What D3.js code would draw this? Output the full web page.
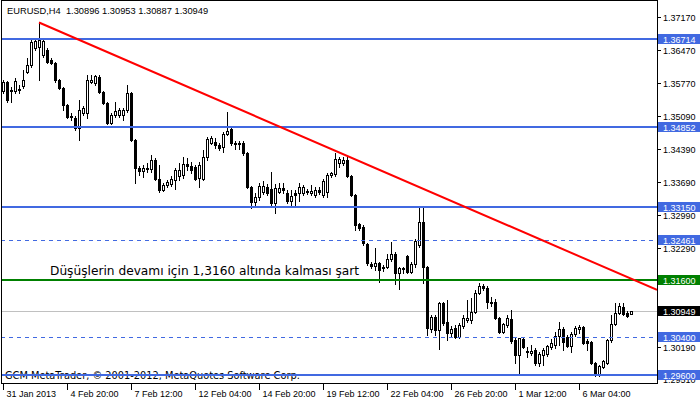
<!DOCTYPE html>
<html><head><meta charset="utf-8">
<script src="https://cdn.jsdelivr.net/npm/d3@7"></script>
<style>html,body{margin:0;padding:0;background:#fff;}svg{display:block;}</style>
</head><body>
<svg id="chart" width="700" height="402"></svg>
<script>
// ---- data (EURUSD, H4) ----
const symbolTitle = "EURUSD,H4  1.30896 1.30953 1.30887 1.30949";
const opens  = [1.3560,1.3580,1.3561,1.3561,1.3565,1.3572,1.3601,1.3616,1.3652,1.3654,1.3637,1.3648,1.3627,1.3620,1.3584,1.3567,1.3531,1.3506,1.3504,1.3483,
 1.3515,1.3515,1.3580,1.3578,1.3591,1.3559,1.3536,1.3493,1.3510,1.3510,1.3510,1.3521,1.3557,1.3457,1.3398,1.3392,1.3398,1.3396,1.3415,1.3375,
 1.3352,1.3362,1.3364,1.3373,1.3381,1.3383,1.3407,1.3402,1.3400,1.3377,1.3375,1.3421,1.3451,1.3453,1.3447,1.3443,1.3470,1.3481,1.3451,1.3449,
 1.3451,1.3430,1.3358,1.3326,1.3337,1.3347,1.3358,1.3354,1.3324,1.3347,1.3356,1.3345,1.3328,1.3345,1.3345,1.3345,1.3349,1.3345,1.3341,1.3352,
 1.3341,1.3347,1.3383,1.3385,1.3409,1.3409,1.3415,1.3381,1.3341,1.3280,1.3273,1.3237,1.3195,1.3191,1.3197,1.3189,1.3189,1.3206,1.3216,1.3176,
 1.3187,1.3212,1.3178,1.3195,1.3235,1.3284,1.3189,1.3057,1.3083,1.3055,1.3112,1.3072,1.3049,1.3060,1.3041,1.3064,1.3076,1.3076,1.3093,1.3134,
 1.3148,1.3144,1.3115,1.3115,1.3081,1.3051,1.3066,1.3079,1.3034,1.3002,1.3036,1.3011,1.3007,1.3013,1.2986,1.3002,1.3005,1.3019,1.3024,1.3043,
 1.3057,1.3041,1.3022,1.3047,1.3057,1.3062,1.3032,1.3030,1.2986,1.2960,1.2977,1.2986,1.3034,1.3068,1.3091,1.3104,1.3091,1.30896];
const highs  = [1.3584,1.3582,1.3570,1.3589,1.3574,1.3606,1.3631,1.3669,1.3673,1.3706,1.3671,1.3652,1.3631,1.3622,1.3586,1.3570,1.3534,1.3515,1.3508,1.3542,
 1.3529,1.3595,1.3595,1.3595,1.3595,1.3561,1.3538,1.3515,1.3538,1.3525,1.3525,1.3574,1.3559,1.3459,1.3402,1.3404,1.3409,1.3426,1.3419,1.3404,
 1.3366,1.3373,1.3381,1.3398,1.3409,1.3421,1.3419,1.3411,1.3404,1.3411,1.3436,1.3464,1.3466,1.3462,1.3451,1.3474,1.3517,1.3483,1.3455,1.3455,
 1.3455,1.3432,1.3360,1.3345,1.3366,1.3371,1.3364,1.3390,1.3364,1.3366,1.3366,1.3352,1.3352,1.3352,1.3366,1.3362,1.3354,1.3362,1.3358,1.3358,
 1.3375,1.3388,1.3390,1.3430,1.3421,1.3421,1.3421,1.3383,1.3343,1.3282,1.3278,1.3239,1.3199,1.3229,1.3199,1.3193,1.3216,1.3242,1.3220,1.3189,
 1.3189,1.3214,1.3199,1.3248,1.3313,1.3313,1.3191,1.3087,1.3087,1.3115,1.3115,1.3119,1.3064,1.3066,1.3070,1.3087,1.3119,1.3123,1.3140,1.3155,
 1.3153,1.3148,1.3125,1.3121,1.3083,1.3070,1.3087,1.3098,1.3038,1.3038,1.3038,1.3019,1.3024,1.3017,1.3009,1.3017,1.3024,1.3036,1.3051,1.3072,
 1.3062,1.3045,1.3051,1.3064,1.3066,1.3064,1.3036,1.3032,1.2988,1.2981,1.2992,1.3036,1.3087,1.3112,1.3112,1.3112,1.3096,1.30953];
const lows   = [1.3557,1.3538,1.3538,1.3557,1.3557,1.3567,1.3599,1.3612,1.3648,1.3584,1.3633,1.3620,1.3618,1.3580,1.3565,1.3521,1.3504,1.3500,1.3479,1.3457,
 1.3510,1.3504,1.3578,1.3574,1.3557,1.3534,1.3491,1.3491,1.3506,1.3506,1.3500,1.3517,1.3455,1.3366,1.3383,1.3379,1.3390,1.3390,1.3373,1.3347,
 1.3349,1.3358,1.3360,1.3354,1.3373,1.3377,1.3394,1.3388,1.3373,1.3358,1.3373,1.3415,1.3449,1.3440,1.3436,1.3432,1.3468,1.3447,1.3438,1.3438,
 1.3426,1.3356,1.3313,1.3320,1.3330,1.3343,1.3341,1.3320,1.3303,1.3345,1.3345,1.3324,1.3320,1.3316,1.3328,1.3341,1.3343,1.3341,1.3337,1.3343,
 1.3337,1.3337,1.3379,1.3381,1.3400,1.3404,1.3379,1.3339,1.3267,1.3267,1.3235,1.3193,1.3187,1.3182,1.3157,1.3180,1.3187,1.3201,1.3153,1.3142,
 1.3176,1.3176,1.3176,1.3189,1.3231,1.3155,1.3045,1.3051,1.3045,1.3015,1.3066,1.3034,1.3041,1.3038,1.3038,1.3060,1.3072,1.3070,1.3091,1.3132,
 1.3140,1.3102,1.3106,1.3079,1.3049,1.3049,1.3062,1.3028,1.2986,1.2960,1.3017,1.2998,1.3002,1.2981,1.2979,1.2981,1.3000,1.3015,1.3017,1.3024,
 1.3013,1.3019,1.3009,1.3043,1.3049,1.3026,1.3013,1.2983,1.2958,1.2958,1.2975,1.2983,1.3030,1.3066,1.3089,1.3087,1.3083,1.30887];
const closes = [1.3581,1.3542,1.3563,1.3582,1.3563,1.3584,1.3616,1.3665,1.3667,1.3669,1.3667,1.3622,1.3620,1.3584,1.3567,1.3531,1.3506,1.3508,1.3483,1.3521,
 1.3525,1.3584,1.3584,1.3593,1.3559,1.3536,1.3493,1.3510,1.3519,1.3521,1.3521,1.3557,1.3457,1.3398,1.3392,1.3398,1.3396,1.3415,1.3375,1.3352,
 1.3362,1.3369,1.3375,1.3394,1.3394,1.3407,1.3402,1.3394,1.3375,1.3404,1.3421,1.3459,1.3462,1.3447,1.3440,1.3470,1.3476,1.3451,1.3449,1.3451,
 1.3430,1.3358,1.3326,1.3337,1.3360,1.3360,1.3345,1.3324,1.3356,1.3356,1.3352,1.3328,1.3339,1.3341,1.3358,1.3358,1.3347,1.3349,1.3352,1.3347,
 1.3371,1.3383,1.3388,1.3417,1.3417,1.3415,1.3381,1.3341,1.3278,1.3271,1.3239,1.3197,1.3191,1.3197,1.3182,1.3187,1.3206,1.3216,1.3176,1.3187,
 1.3184,1.3178,1.3195,1.3244,1.3284,1.3189,1.3060,1.3083,1.3055,1.3112,1.3070,1.3049,1.3057,1.3041,1.3066,1.3081,1.3081,1.3093,1.3134,1.3148,
 1.3144,1.3115,1.3112,1.3081,1.3051,1.3068,1.3081,1.3032,1.3002,1.3038,1.3019,1.3009,1.3011,1.2986,1.3005,1.3013,1.3022,1.3028,1.3043,1.3057,
 1.3030,1.3022,1.3047,1.3060,1.3062,1.3028,1.3028,1.2986,1.2960,1.2979,1.2990,1.3034,1.3068,1.3091,1.3106,1.3089,1.3085,1.30949];

const timeLabels = ["31 Jan 2013","4 Feb 20:00","7 Feb 12:00","12 Feb 04:00","14 Feb 20:00","19 Feb 12:00","22 Feb 04:00","26 Feb 20:00","1 Mar 12:00","6 Mar 04:00"];
const labelEvery = 16; // bars between time labels
const priceTicks = [1.37170,1.36470,1.35770,1.35090,1.34390,1.33690,1.32990,1.32290,1.30190,1.29510];

const solidBlueLevels  = [1.36714, 1.34852, 1.33150, 1.29600];
const dashedBlueLevels = [1.32461, 1.30400];
const greenLevels      = [1.31600];
const trendBars   = [9, 163.5];
const trendPrices = [1.3706, 1.3140];
const noteText = "Düşüşlerin devamı için 1,3160 altında kalması şart";
const footerText = "GCM MetaTrader, © 2001-2012, MetaQuotes Software Corp.";

// ---- drawing ----
const svg = d3.select("#chart");
const N = closes.length;
const plot = {left:1, top:0, right:657, bottom:383};
const x = d3.scaleLinear().domain([0, N-1]).range([3, 3 + 4*(N-1)]);
const y = d3.scaleLinear().domain([1.2960, 1.3717]).range([375, 17.3]);
const BLUE = "#4169E1", GREEN = "#008000";

svg.append("rect").attr("width",700).attr("height",402).attr("fill","#fff");
svg.append("defs").append("clipPath").attr("id","clip").append("rect")
  .attr("x",plot.left+1).attr("y",plot.top+1).attr("width",plot.right-plot.left-1).attr("height",plot.bottom-plot.top-1);

const g = svg.append("g").attr("clip-path","url(#clip)");
const ry = v => Math.round(y(v));

// bid line (behind candles)
const bid = closes[N-1];
g.append("line").attr("x1",plot.left).attr("x2",plot.right).attr("y1",ry(bid)+0.5).attr("y2",ry(bid)+0.5)
  .attr("stroke","#c0c0c0").attr("stroke-width",1);

// candles
const bars = closes.map((c,i)=>({i, o:opens[i], h:highs[i], l:lows[i], c}));
const cg = g.append("g").attr("shape-rendering","crispEdges");
bars.forEach(b=>{
  const cx = x(b.i) + 0.5;
  cg.append("line").attr("x1",cx).attr("x2",cx).attr("y1",ry(b.h)).attr("y2",ry(b.l)+1)
    .attr("stroke","#000").attr("stroke-width",1);
  const top = ry(Math.max(b.o,b.c)), bot = ry(Math.min(b.o,b.c));
  const bull = b.c >= b.o;
  if (bot - top < 1) {
    cg.append("line").attr("x1",cx-1.5).attr("x2",cx+1.5).attr("y1",top+0.5).attr("y2",top+0.5)
      .attr("stroke","#000").attr("stroke-width",1);
  } else {
    cg.append("rect").attr("x",cx-1).attr("y",top+0.5).attr("width",2).attr("height",bot-top)
      .attr("fill", bull ? "#fff" : "#000").attr("stroke","#000").attr("stroke-width",1);
  }
});

// horizontal levels
const lg = g.append("g").attr("shape-rendering","crispEdges");
solidBlueLevels.forEach(v=>{
  lg.append("line").attr("x1",plot.left).attr("x2",plot.right).attr("y1",ry(v)).attr("y2",ry(v))
    .attr("stroke",BLUE).attr("stroke-width",2);
});
dashedBlueLevels.forEach(v=>{
  lg.append("line").attr("x1",plot.left).attr("x2",plot.right).attr("y1",ry(v)+0.5).attr("y2",ry(v)+0.5)
    .attr("stroke",BLUE).attr("stroke-width",1).attr("stroke-dasharray","4,4");
});
greenLevels.forEach(v=>{
  lg.append("line").attr("x1",plot.left).attr("x2",plot.right).attr("y1",ry(v)).attr("y2",ry(v))
    .attr("stroke",GREEN).attr("stroke-width",2);
});

// trend line
g.append("line").attr("x1",x(trendBars[0])).attr("y1",y(trendPrices[0]))
  .attr("x2",x(trendBars[1])).attr("y2",y(trendPrices[1]))
  .attr("stroke","#ff0000").attr("stroke-width",2);

// note text
g.append("text").attr("x",50).attr("y",y(greenLevels[0])-5)
  .attr("font-family","DejaVu Sans").attr("font-size","12.2px").attr("fill","#000").text(noteText);

// frame
svg.append("rect").attr("x",plot.left+0.5).attr("y",plot.top+0.5)
  .attr("width",plot.right-plot.left).attr("height",plot.bottom-plot.top)
  .attr("fill","none").attr("stroke","#000").attr("stroke-width",1).attr("shape-rendering","crispEdges");

// title
svg.append("text").attr("x",7).attr("y",13.5).attr("font-family","Liberation Sans, Arial")
  .attr("font-size","9.3px").attr("fill","#000").attr("xml:space","preserve").style("white-space","pre").text(symbolTitle);

// footer
svg.append("text").attr("x",5).attr("y",379).attr("font-family","DejaVu Sans")
  .attr("font-size","9.8px").attr("fill","#000").text(footerText);
// bottom blue line sits over the footer text in the reference
svg.append("line").attr("x1",plot.left+1).attr("x2",plot.right).attr("y1",ry(solidBlueLevels[3])).attr("y2",ry(solidBlueLevels[3]))
  .attr("stroke",BLUE).attr("stroke-width",2).attr("shape-rendering","crispEdges");

// right price axis
const ax = svg.append("g");
priceTicks.forEach(v=>{
  const yy = ry(v);
  ax.append("line").attr("x1",plot.right+1).attr("x2",plot.right+4).attr("y1",yy+0.5).attr("y2",yy+0.5)
    .attr("stroke","#000").attr("shape-rendering","crispEdges");
  ax.append("text").attr("x",663).attr("y",yy+3.5).attr("font-family","Liberation Sans, Arial")
    .attr("font-size","9px").attr("fill","#000").text(v.toFixed(5));
});

// level labels on the axis
function levelLabel(v, bg){
  const yy = ry(v);
  ax.append("rect").attr("x",658).attr("y",yy-5).attr("width",42).attr("height",10).attr("fill",bg);
  ax.append("text").attr("x",663).attr("y",yy+3.5).attr("font-family","Liberation Sans, Arial")
    .attr("font-size","9px").attr("fill","#fff").text(v.toFixed(5));
}
solidBlueLevels.concat(dashedBlueLevels).forEach(v=>levelLabel(v, BLUE));
greenLevels.forEach(v=>levelLabel(v, GREEN));
levelLabel(bid, "#000");

// bottom time axis
timeLabels.forEach((t,k)=>{
  const cx = Math.round(x(k*labelEvery)) + 0.5;
  ax.append("line").attr("x1",cx).attr("x2",cx).attr("y1",plot.bottom+1).attr("y2",plot.bottom+7)
    .attr("stroke","#000").attr("shape-rendering","crispEdges");
  ax.append("text").attr("x",cx+3).attr("y",397).attr("font-family","Liberation Sans, Arial")
    .attr("font-size","9px").attr("fill","#000").text(t);
});
</script>
</body></html>
